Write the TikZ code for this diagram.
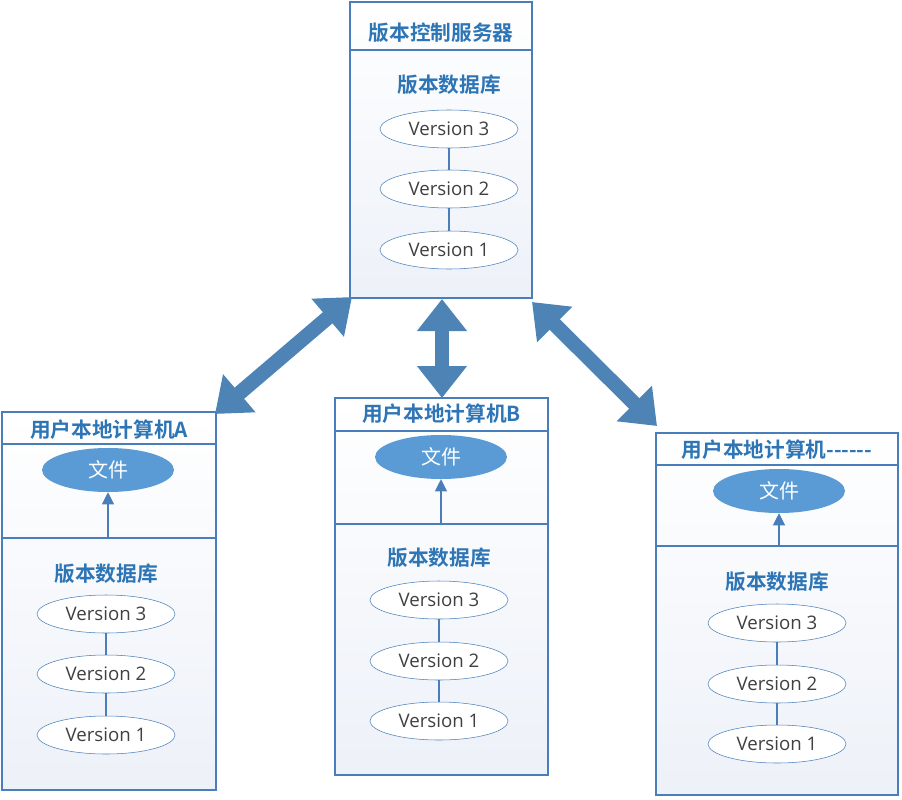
\documentclass[tikz,border=0pt]{standalone}
\usepackage{fontspec}
\setmainfont{Open Sans}
\newfontfamily\cjk{Noto Sans CJK SC}[BoldFont={* Bold}]
\usetikzlibrary{shapes.geometric,arrows.meta,positioning,calc}
\definecolor{lineblue}{HTML}{4A7EBB}
\definecolor{textblue}{HTML}{2E75B6}
\definecolor{fileblue}{HTML}{5B9BD5}
\definecolor{boxbg}{HTML}{EDF1F8}
\tikzset{
  box/.style={draw=lineblue,thick,top color=white,bottom color=boxbg,inner sep=0pt},
  title/.style={text=textblue,font=\cjk\bfseries\fontsize{15.5}{18}\selectfont},
  ver/.style={ellipse,draw=lineblue,fill=white,minimum width=103.5pt,minimum height=28.5pt,inner sep=0pt,font=\fontsize{14}{16}\selectfont,text=black!75},
  file/.style={ellipse,fill=fileblue,minimum width=99pt,minimum height=33pt,inner sep=0pt,text=white,font=\cjk\fontsize{15}{17}\selectfont},
  link/.style={draw=lineblue,thick},
  big/.style={draw=fileblue!85!black,line width=11pt,{Triangle[width=36pt,length=24pt]}-{Triangle[width=36pt,length=24pt]}}
}
\begin{document}
\begin{tikzpicture}[x=0.75pt,y=-0.75pt]
   \useasboundingbox (0,0) rectangle (902,799);
   % server
   \node[box,minimum width=136.5pt,minimum height=222pt] (srv) at (441,150) {};
   \node[title] (srvt) at (441,33) {版本控制服务器};
   \draw[link] (srv.west|-0,50) -- (srv.east|-0,50);
   \node[title] (srvdb) at (449,85) {版本数据库};
   \foreach \i/\y in {3/129,2/189,1/250}
     \node[ver] (s\i) at (449,\y) {Version \i};
   \draw[link] (s3) -- (s2) (s2) -- (s1);
   % clients
   \foreach \n/\cx/\cy/\w/\h/\ty/\da/\db/\fy/\dy/\va/\vb/\vc/\vx/\txt in {
     a/109/601/160.5pt/283.5pt/430/444/538/470/574/614/674/735/106/用户本地计算机A,
     b/441.5/586.5/159.75pt/282.75pt/414/431/524/457/558/600/661/721/439/用户本地计算机B,
     c/777/614/181.5pt/271.5pt/450/465/546/491/582/623/684/744/777/用户本地计算机------}{
     \node[box,minimum width=\w,minimum height=\h] (\n) at (\cx,\cy) {};
     \node[title] (\n t) at (\cx,\ty) {\txt};
     \draw[link] (\n.west|-0,\da) -- (\n.east|-0,\da);
     \draw[link] (\n.west|-0,\db) -- (\n.east|-0,\db);
     \node[file] (\n f) at (\vx+2,\fy) {文件};
     \coordinate (\n d) at (\vx+2,\db);
     \draw[link,-{Triangle[width=9pt,length=9pt]}] (\n d) -- (\n f);
     \node[title] (\n db) at (\vx,\dy) {版本数据库};
     \node[ver] (\n 3) at (\vx,\va) {Version 3};
     \node[ver] (\n 2) at (\vx,\vb) {Version 2};
     \node[ver] (\n 1) at (\vx,\vc) {Version 1};
     \draw[link] (\n 3) -- (\n 2) (\n 2) -- (\n 1);
   }
   % sync arrows
   \coordinate (pa) at (352,297);
   \coordinate (qa) at (215,414);
   \coordinate (pb) at (442,299);
   \coordinate (qb) at (442,398);
   \coordinate (pc) at (532,302);
   \coordinate (qc) at (657,426);
   \draw[big] (pa) -- (qa);
   \draw[big] (pb) -- (qb);
   \draw[big] (pc) -- (qc);
\end{tikzpicture}
\end{document}
